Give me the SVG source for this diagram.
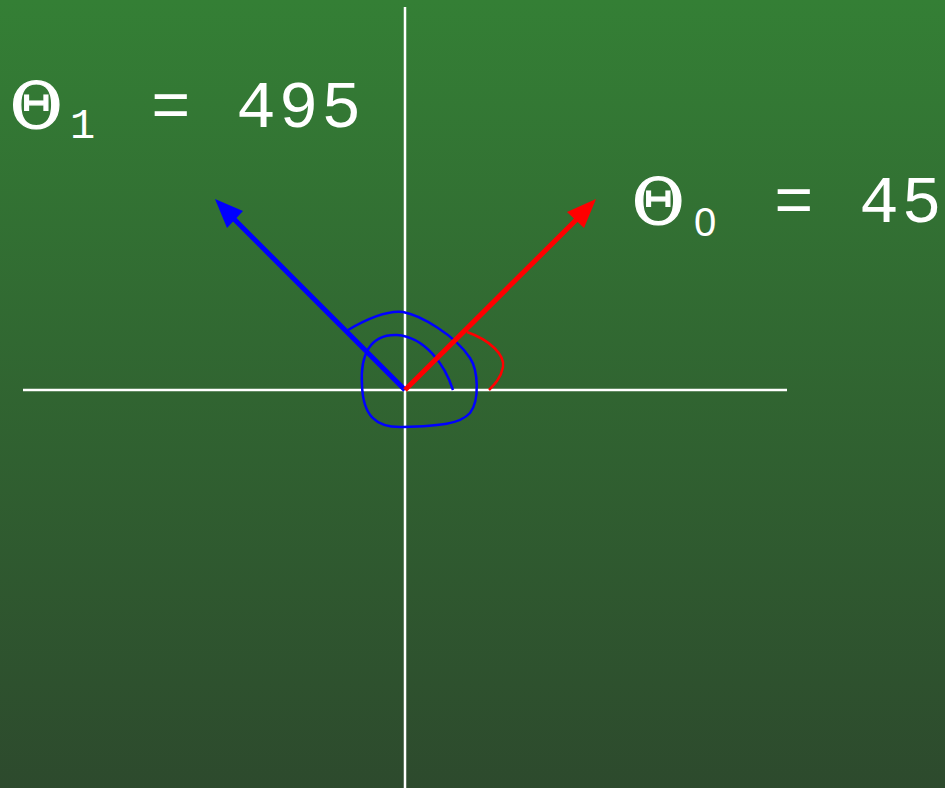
<svg xmlns="http://www.w3.org/2000/svg" width="945" height="788" viewBox="0 0 945 788">
<defs>
<linearGradient id="bg" x1="0" y1="0" x2="0" y2="1">
<stop offset="0" stop-color="#347f35"/>
<stop offset="1" stop-color="#2d4a2d"/>
</linearGradient>
<style>
.axis{stroke:#ffffff;stroke-width:2.5;fill:none}
.th{font-family:"DejaVu Serif",serif;font-size:64px;fill:#ffffff;stroke:#ffffff;stroke-width:1.2}
.sub{font-family:"Liberation Mono",monospace;font-size:42px;fill:#ffffff}
.val{font-family:"Liberation Mono",monospace;font-size:66px;fill:#ffffff;letter-spacing:3px}
</style>
</defs>
<rect width="945" height="788" fill="url(#bg)"/>
<g id="axes">
<line class="axis" x1="405" y1="7" x2="405" y2="788"/>
<line class="axis" x1="23" y1="390" x2="787" y2="390"/>
</g>
<g id="connectors">
<path d="M453,390 C445,365 425,337 397,335 C370,334 360,355 362,385 C363,415 375,428 403,427 C440,426 460,424 470,413 C480,400 478,370 470,358 C455,335 420,315 403,312 C385,310 365,320 348,330" fill="none" stroke="#0000ff" stroke-width="2.5"/>
<path d="M467,332 C490,340 505,355 503,367 C501,378 494,385 489,390" fill="none" stroke="#ff0000" stroke-width="2.5"/>
<line x1="405" y1="390" x2="233" y2="218" stroke="#0000ff" stroke-width="5"/>
<polygon points="215,199 243,211 227,228" fill="#0000ff"/>
<line x1="405" y1="390" x2="578" y2="218" stroke="#ff0000" stroke-width="5"/>
<polygon points="596,199 567,212 584,228" fill="#ff0000"/>
</g>
<g id="label1">
<text class="th" x="10" y="128">Θ</text>
<text class="sub" x="70" y="138">1</text>
<text class="val" x="151" y="127">= 495</text>
</g>
<g id="label0">
<text class="th" x="632" y="224">Θ</text>
<text class="sub" x="694" y="236" style="font-family:'Liberation Sans',sans-serif;font-size:40px">0</text>
<text class="val" x="774" y="222">= 45</text>
</g>
</svg>
